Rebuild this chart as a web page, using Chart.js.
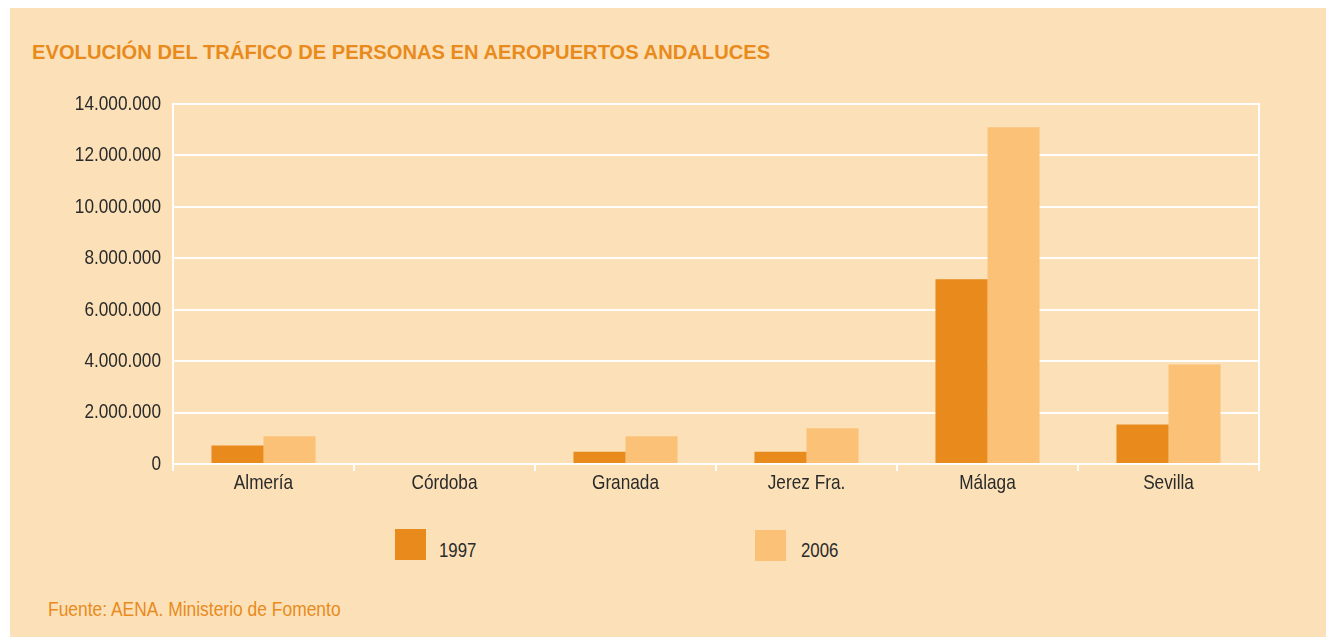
<!DOCTYPE html>
<html>
<head>
<meta charset="utf-8">
<script src="https://cdn.jsdelivr.net/npm/chart.js@4.4.1/dist/chart.umd.min.js"></script>
<style>
  html, body { margin: 0; padding: 0; background: #ffffff; width: 1326px; height: 639px; overflow: hidden; }
  #panel { position: absolute; left: 10px; top: 8px; width: 1316px; height: 629px; background: #FCE1B8; }
  .txt { position: absolute; font-family: 'Liberation Sans', Arial, sans-serif; line-height: 1; white-space: nowrap; transform-origin: 0 0; }
  #title { left: 32px; top: 40.5px; font-size: 21px; font-weight: bold; color: #E98A1C; transform: scaleX(0.96); }
  #source { left: 48px; top: 598px; font-size: 21px; color: #E98A1C; transform: scaleX(0.83); }
  #chartWrap { position: absolute; left: 10px; top: 8px; width: 1316px; height: 488px; }
  .lg-box { position: absolute; width: 31px; height: 31px; }
  .lg-txt { font-size: 21px; color: #2a2a2a; transform: scaleX(0.8); }
</style>
</head>
<body>
<div id="panel"></div>
<div class="txt" id="title">EVOLUCIÓN DEL TRÁFICO DE PERSONAS EN AEROPUERTOS ANDALUCES</div>
<div id="chartWrap"><canvas id="c" width="1316" height="488"></canvas></div>
<div id="legend"></div>
<div class="txt" id="source">Fuente: AENA. Ministerio de Fomento</div>
<script>
// ---- data ----
const categories = ['Almería', 'Córdoba', 'Granada', 'Jerez Fra.', 'Málaga', 'Sevilla'];
const seriesLabels = ['1997', '2006'];
const values1997 = [720000, 0, 480000, 480000, 7180000, 1540000];
const values2006 = [1080000, 0, 1080000, 1390000, 13100000, 3870000];
const seriesColors = ['#E98A1C', '#FBC277'];
const yTickValues = [0, 2000000, 4000000, 6000000, 8000000, 10000000, 12000000, 14000000];

function fmt(v) {
  return String(Math.round(v)).replace(/\B(?=(\d{3})+(?!\d))/g, '.');
}

// ---- legend (HTML) ----
const legendPos = [{box: [395, 529], txt: [439, 539]}, {box: [755, 530], txt: [801, 539]}];
const legendEl = document.getElementById('legend');
seriesLabels.forEach((lab, i) => {
  const b = document.createElement('div');
  b.className = 'lg-box';
  b.style.left = legendPos[i].box[0] + 'px';
  b.style.top = legendPos[i].box[1] + 'px';
  b.style.background = seriesColors[i];
  legendEl.appendChild(b);
  const t = document.createElement('div');
  t.className = 'txt lg-txt';
  t.style.left = legendPos[i].txt[0] + 'px';
  t.style.top = legendPos[i].txt[1] + 'px';
  t.textContent = lab;
  legendEl.appendChild(t);
});

const FONT = "'Liberation Sans', Arial, sans-serif";
const GRID = 'rgba(255,255,255,0.95)';
const NARROW = 0.82; // horizontal condensing to imitate a narrow typeface

const narrowText = {
  id: 'narrowText',
  beforeInit(chart) {
    const ctx = chart.ctx;
    const origFill = ctx.fillText.bind(ctx);
    const origMeasure = ctx.measureText.bind(ctx);
    ctx.fillText = function (text, x, y) {
      ctx.save();
      ctx.translate(x, y);
      ctx.scale(NARROW, 1);
      origFill(text, 0, 0);
      ctx.restore();
    };
    ctx.measureText = function (text) {
      const m = origMeasure(text);
      return {
        width: m.width * NARROW,
        actualBoundingBoxAscent: m.actualBoundingBoxAscent,
        actualBoundingBoxDescent: m.actualBoundingBoxDescent,
        actualBoundingBoxLeft: m.actualBoundingBoxLeft * NARROW,
        actualBoundingBoxRight: m.actualBoundingBoxRight * NARROW
      };
    };
  }
};

new Chart(document.getElementById('c'), {
  type: 'bar',
  data: {
    labels: categories,
    datasets: [
      { label: seriesLabels[0], data: values1997, backgroundColor: seriesColors[0], borderWidth: 0 },
      { label: seriesLabels[1], data: values2006, backgroundColor: seriesColors[1], borderWidth: 0 }
    ]
  },
  plugins: [narrowText],
  options: {
    responsive: false,
    animation: false,
    events: [],
    layout: { padding: { left: 0, right: 67, top: 96, bottom: 0 } },
    datasets: { bar: { categoryPercentage: 0.575, barPercentage: 1.0 } },
    plugins: {
      legend: { display: false },
      title: { display: false },
      tooltip: { enabled: false }
    },
    scales: {
      x: {
        offset: true,
        grid: { display: true, offset: true, drawOnChartArea: false, drawTicks: true, tickLength: 7, color: GRID, lineWidth: 2 },
        border: { display: true, color: GRID, width: 2 },
        ticks: { color: '#2a2a2a', padding: 0, font: { family: FONT, size: 21 }, maxRotation: 0, autoSkip: false },
        afterFit: (s) => { s.height = 32; }
      },
      y: {
        min: 0,
        max: 14000000,
        afterBuildTicks: (s) => { s.ticks = yTickValues.map(v => ({ value: v })); },
        grid: { color: GRID, lineWidth: 2, drawTicks: false },
        border: { display: true, color: GRID, width: 2 },
        ticks: { color: '#2a2a2a', padding: 12, font: { family: FONT, size: 21 }, callback: (v) => fmt(v) },
        afterFit: (s) => { s.width = 163; }
      },
      y2: {
        position: 'right',
        min: 0,
        max: 14000000,
        grid: { drawOnChartArea: false, drawTicks: false },
        border: { display: true, color: GRID, width: 2 },
        ticks: { display: false },
        afterFit: (s) => { s.width = 0; }
      }
    }
  }
});
</script>
</body>
</html>
